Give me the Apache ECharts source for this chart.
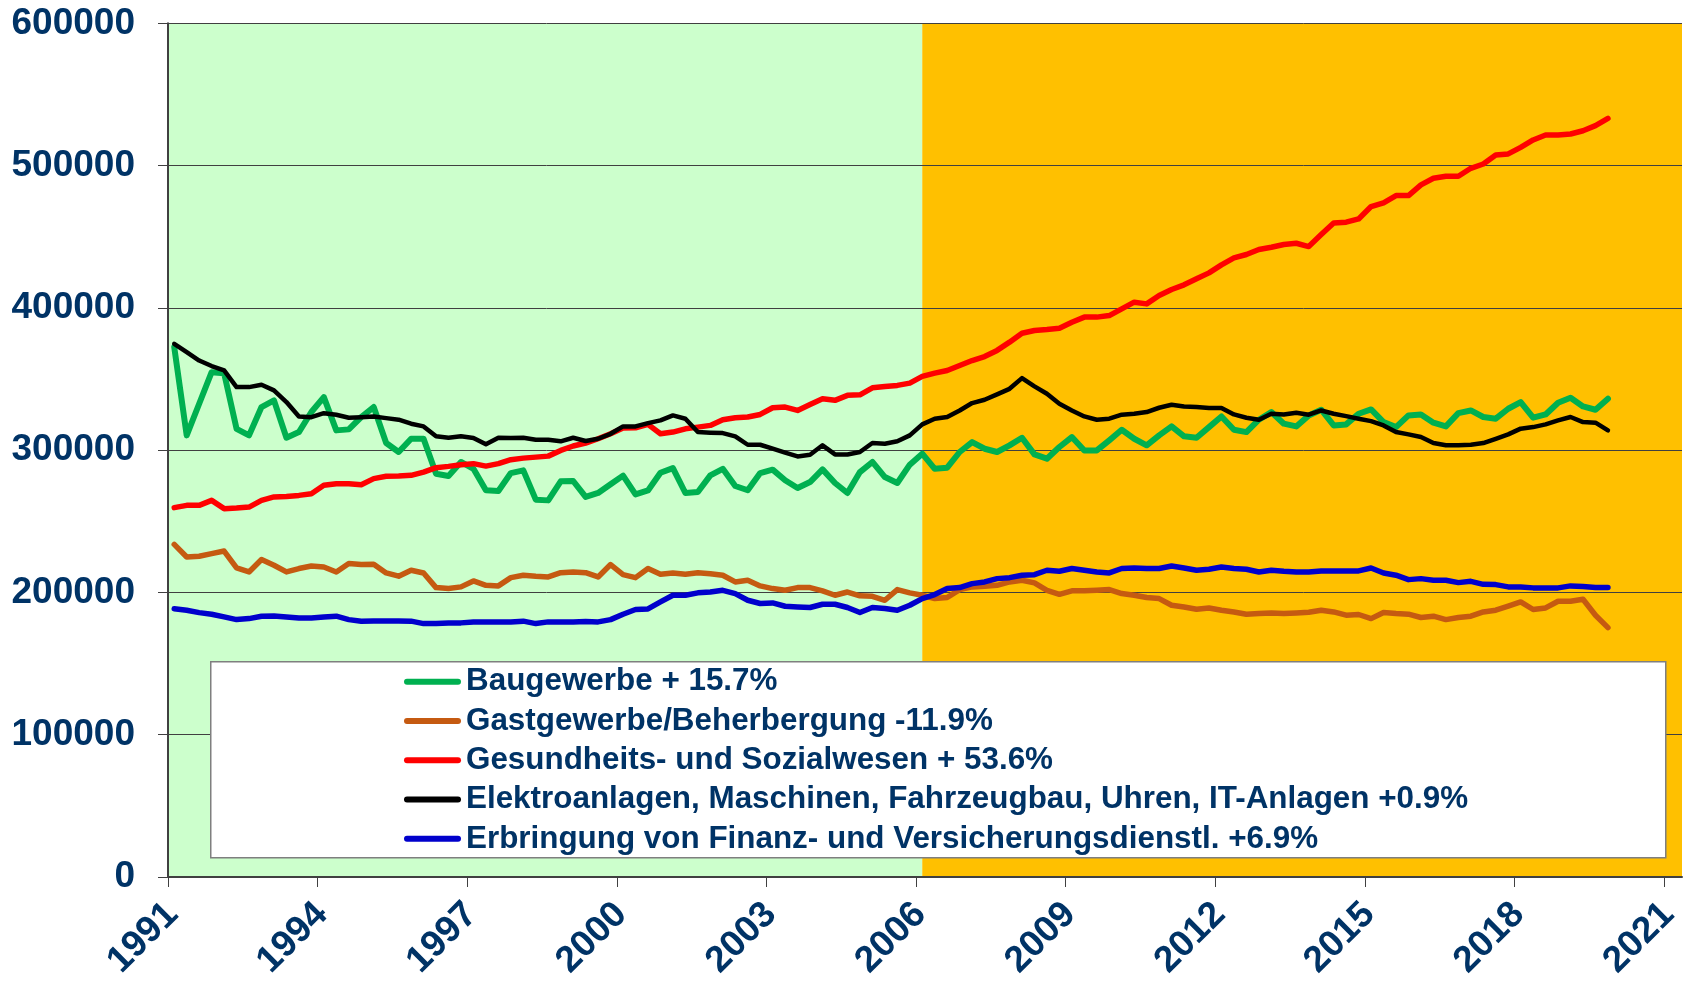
<!DOCTYPE html>
<html>
<head>
<meta charset="utf-8">
<script src="https://cdn.jsdelivr.net/npm/echarts@6/dist/echarts.min.js"></script>
<style>
  html, body { margin: 0; padding: 0; background: #fff; }
  #chart { width: 1688px; height: 982px; }
</style>
</head>
<body>
<div id="chart"></div>
<script>
  // Quartalswerte 1991 Q1 .. 2019 Q4 (116 Werte je Reihe)
  const firstYear = 1991
  const tickYears = [1991, 1994, 1997, 2000, 2003, 2006, 2009, 2012, 2015, 2018, 2021]
  const yTicks = [0, 100000, 200000, 300000, 400000, 500000, 600000]
  const seriesNames = [
    'Baugewerbe + 15.7%',
    'Gastgewerbe/Beherbergung -11.9%',
    'Gesundheits- und Sozialwesen + 53.6%',
    'Elektroanlagen, Maschinen, Fahrzeugbau, Uhren, IT-Anlagen +0.9%',
    'Erbringung von Finanz- und Versicherungsdienstl. +6.9%'
  ]
  const seriesColors = ['#00B050', '#C55A11', '#FF0000', '#000000', '#0000CC']

  const bau = [
    372400, 310400, 332600, 354800, 354100, 315000, 310400, 330300, 335000, 308700,
    312700, 326800, 337300, 313900, 314600, 323300, 330300, 305000, 298700, 308000,
    308000, 283400, 281800, 291700, 286900, 271800, 271300, 283900, 285800, 265200,
    264700, 278100, 278300, 267100, 269900, 276000, 282100, 268900, 271700, 284100,
    287400, 269900, 270600, 282300, 286900, 274800, 271800, 283900, 286300, 278800,
    273400, 277600, 286500, 276900, 269900, 284600, 291700, 281100, 276900, 289800,
    297500, 286900, 287700, 298700, 305700, 301000, 298700, 303400, 308700, 297000,
    294000, 302200, 309200, 299800, 299800, 306900, 314300, 308000, 303400, 310400,
    316700, 309700, 308700, 316200, 323700, 314300, 312700, 321400, 326800, 318600,
    316700, 324400, 328400, 317400, 318100, 325600, 328600, 319700, 316200, 324400,
    325100, 319300, 316700, 326000, 327900, 323300, 322100, 329100, 333800, 322800,
    325100, 333300, 336800, 330700, 328400, 336100
  ]
  const gast = [
    233800, 224900, 225400, 227300, 229100, 217200, 214400, 223100, 219100, 214400,
    216800, 218600, 217900, 214400, 220300, 219600, 219800, 213700, 211400, 215600,
    213700, 203400, 202700, 203900, 208100, 205000, 204600, 210400, 212100, 211400,
    210900, 213900, 214400, 213900, 210900, 219600, 212500, 210400, 216800, 212800,
    213700, 212800, 213900, 213200, 212100, 207400, 208600, 204600, 202700, 201500,
    203400, 203400, 201100, 198000, 200300, 197600, 197300, 194500, 202000, 199700,
    198000, 195700, 196400, 202000, 203900, 204300, 205000, 207400, 208600, 206700,
    201500, 198700, 201100, 201100, 201500, 202000, 199200, 198000, 196400, 195700,
    191000, 189800, 188200, 189100, 187500, 186300, 184700, 185200, 185600, 185200,
    185600, 186100, 187500, 186300, 184000, 184500, 181600, 185900, 185200, 184700,
    182400, 183300, 180900, 182400, 183300, 186300, 187500, 190300, 193300, 188000,
    189100, 193800, 193800, 195200, 184000, 175300
  ]
  const gesund = [
    259600, 261200, 261200, 264700, 258900, 259300, 260000, 264700, 267100, 267500,
    268200, 269400, 275300, 276400, 276400, 275700, 280000, 281600, 281800, 282300,
    284600, 287700, 288600, 289800, 290500, 288800, 290500, 293300, 294400, 295100,
    295800, 299800, 302900, 305000, 308000, 311500, 315500, 315700, 318100, 311500,
    312700, 315000, 316200, 317400, 321400, 322800, 323300, 325100, 329800, 330300,
    327900, 332100, 336100, 335000, 338500, 338900, 343800, 344800, 345500, 347100,
    351800, 354100, 356000, 359500, 363000, 365800, 370100, 375900, 382200, 384100,
    384800, 385700, 389900, 393500, 393500, 394600, 399300, 404000, 402800, 408700,
    412900, 416200, 420400, 424600, 430200, 435100, 437500, 441000, 442600, 444500,
    445400, 443100, 451500, 459700, 460200, 462500, 471200, 473800, 478900, 478900,
    486400, 491100, 492500, 492500, 498100, 501100, 507500, 508200, 512800, 518000,
    521500, 521500, 522200, 524500, 528100, 533200
  ]
  const elektro = [
    374700, 368900, 363000, 359100, 356000, 344300, 344300, 346000, 342000, 333800,
    323700, 323200, 326000, 324900, 322800, 323200, 323700, 322500, 321400, 318600,
    316700, 309700, 308700, 309700, 308500, 304100, 308700, 308500, 308700, 307300,
    307300, 306200, 308700, 306400, 308000, 311500, 316700, 316700, 319000, 320900,
    324400, 322100, 312700, 312300, 312000, 309700, 303800, 303800, 301000, 298200,
    295600, 296800, 303400, 297000, 297000, 298700, 305000, 304500, 306200, 310400,
    318100, 322100, 323300, 327900, 333100, 335400, 339200, 343100, 350600, 344800,
    339600, 332600, 327900, 323700, 321400, 322100, 324900, 325600, 326800, 329800,
    331900, 330700, 330300, 329600, 329600, 325100, 322800, 321400, 325600, 325100,
    326300, 324900, 327900, 325600, 323900, 322100, 320400, 317400, 312700, 311100,
    309200, 305000, 303400, 303400, 303800, 305000, 308000, 311100, 315100, 316200,
    318100, 320900, 323300, 319700, 319300, 313900
  ]
  const finanz = [
    188600, 187500, 185800, 184700, 182800, 180900, 181600, 183300, 183500, 182800,
    182100, 182100, 182800, 183300, 180900, 179800, 180000, 180000, 180000, 179800,
    178100, 178100, 178600, 178600, 179300, 179300, 179300, 179300, 179800, 178100,
    179300, 179300, 179300, 179500, 179300, 180900, 184700, 188000, 188400, 193300,
    198000, 198000, 199700, 200300, 201500, 199200, 194500, 192200, 192600, 190300,
    189800, 189400, 191700, 191700, 189400, 185900, 189400, 188700, 187500, 191000,
    195700, 198500, 202700, 203400, 206200, 207400, 209700, 210400, 212100, 212500,
    215600, 214900, 216800, 215600, 214400, 213700, 216800, 217200, 216800, 216800,
    218600, 217200, 215600, 216300, 217900, 216800, 216300, 214400, 215600, 214900,
    214400, 214400, 215100, 215100, 215100, 215100, 217200, 213700, 212100, 209000,
    209700, 208600, 208600, 206900, 207800, 205700, 205500, 203900, 203900, 203200,
    203200, 203200, 204600, 204100, 203400, 203400
  ]
  const lineWidths = [6, 5.5, 5.5, 4.5, 5.5]

  // Vergleichszeitraum ab 2006 (Quartalsmitte 2006 Q1)
  const splitYear = 2006.125
  const xMax = 2021.36

  const labelColor = '#003366'
  const labelFont = 'Liberation Sans, Arial, sans-serif'

  /** Quartal i liegt in der Mitte seines Zeitraums */
  function toPoints(values) {
    return values.map((v, i) => [firstYear + (i + 0.5) / 4, v])
  }

  const allValues = [bau, gast, gesund, elektro, finanz]

  const series = allValues.map((values, k) => ({
    name: seriesNames[k],
    type: 'line',
    data: toPoints(values),
    showSymbol: false,
    symbol: 'none',
    color: seriesColors[k],
    lineStyle: { width: lineWidths[k], color: seriesColors[k], cap: 'round', join: 'round' },
    z: 2 + k * 0.01,
    silent: true
  }))

  // Hintergrundflaechen
  series[0].markArea = {
    silent: true,
    z: 0.5,
    data: [
      [{ xAxis: firstYear, itemStyle: { color: '#CCFFCC' } }, { xAxis: splitYear }],
      [{ xAxis: splitYear, itemStyle: { color: '#FFC000' } }, { xAxis: xMax }]
    ]
  }

  const chart = echarts.init(document.getElementById('chart'), null, { renderer: 'canvas' })
  chart.setOption({
    animation: false,
    backgroundColor: '#ffffff',
    grid: { left: 168, right: 6, top: 23.3, bottom: 105, containLabel: false, outerBoundsMode: 'none' },
    xAxis: {
      type: 'value',
      min: firstYear,
      max: xMax,
      splitLine: { show: false },
      axisLine: { show: true, lineStyle: { color: '#404040', width: 2 } },
      axisTick: { show: true, length: 10, customValues: tickYears, lineStyle: { color: '#404040', width: 1 } },
      axisLabel: {
        customValues: tickYears,
        rotate: 45,
        margin: 36,
        padding: [12, -6, 0, 0],
        fontSize: 37,
        fontWeight: 'bold',
        fontFamily: labelFont,
        color: labelColor,
        formatter: v => String(v)
      },
      z: 1
    },
    yAxis: {
      type: 'value',
      min: yTicks[0],
      max: yTicks[yTicks.length - 1],
      interval: 100000,
      splitLine: { show: true, lineStyle: { color: '#404040', width: 1 } },
      axisLine: { show: true, lineStyle: { color: '#404040', width: 2 } },
      axisTick: { show: true, length: 10, lineStyle: { color: '#404040', width: 1 } },
      axisLabel: {
        margin: 33,
        fontSize: 37,
        fontWeight: 'bold',
        fontFamily: labelFont,
        color: labelColor,
        formatter: v => String(v)
      },
      z: 1
    },
    graphic: [
      {
        type: 'rect',
        left: 210,
        top: 661,
        z: 3,
        silent: true,
        shape: { width: 1455, height: 196 },
        style: { fill: '#ffffff', stroke: '#7f7f7f', lineWidth: 1.5 }
      }
    ],
    legend: {
      data: seriesNames,
      orient: 'vertical',
      left: 404,
      top: 662,
      padding: 0,
      itemGap: 0,
      itemWidth: 57,
      itemHeight: 6,
      selectedMode: false,
      icon: 'path://M3,0 L54,0 A3,3 0 0 1 54,6 L3,6 A3,3 0 0 1 3,0 Z',
      textStyle: {
        fontSize: 31.4,
        fontWeight: 'bold',
        fontFamily: labelFont,
        color: labelColor,
        lineHeight: 39.3,
        height: 39.3
      },
      z: 5
    },
    series: series
  })
</script>
</body>
</html>
